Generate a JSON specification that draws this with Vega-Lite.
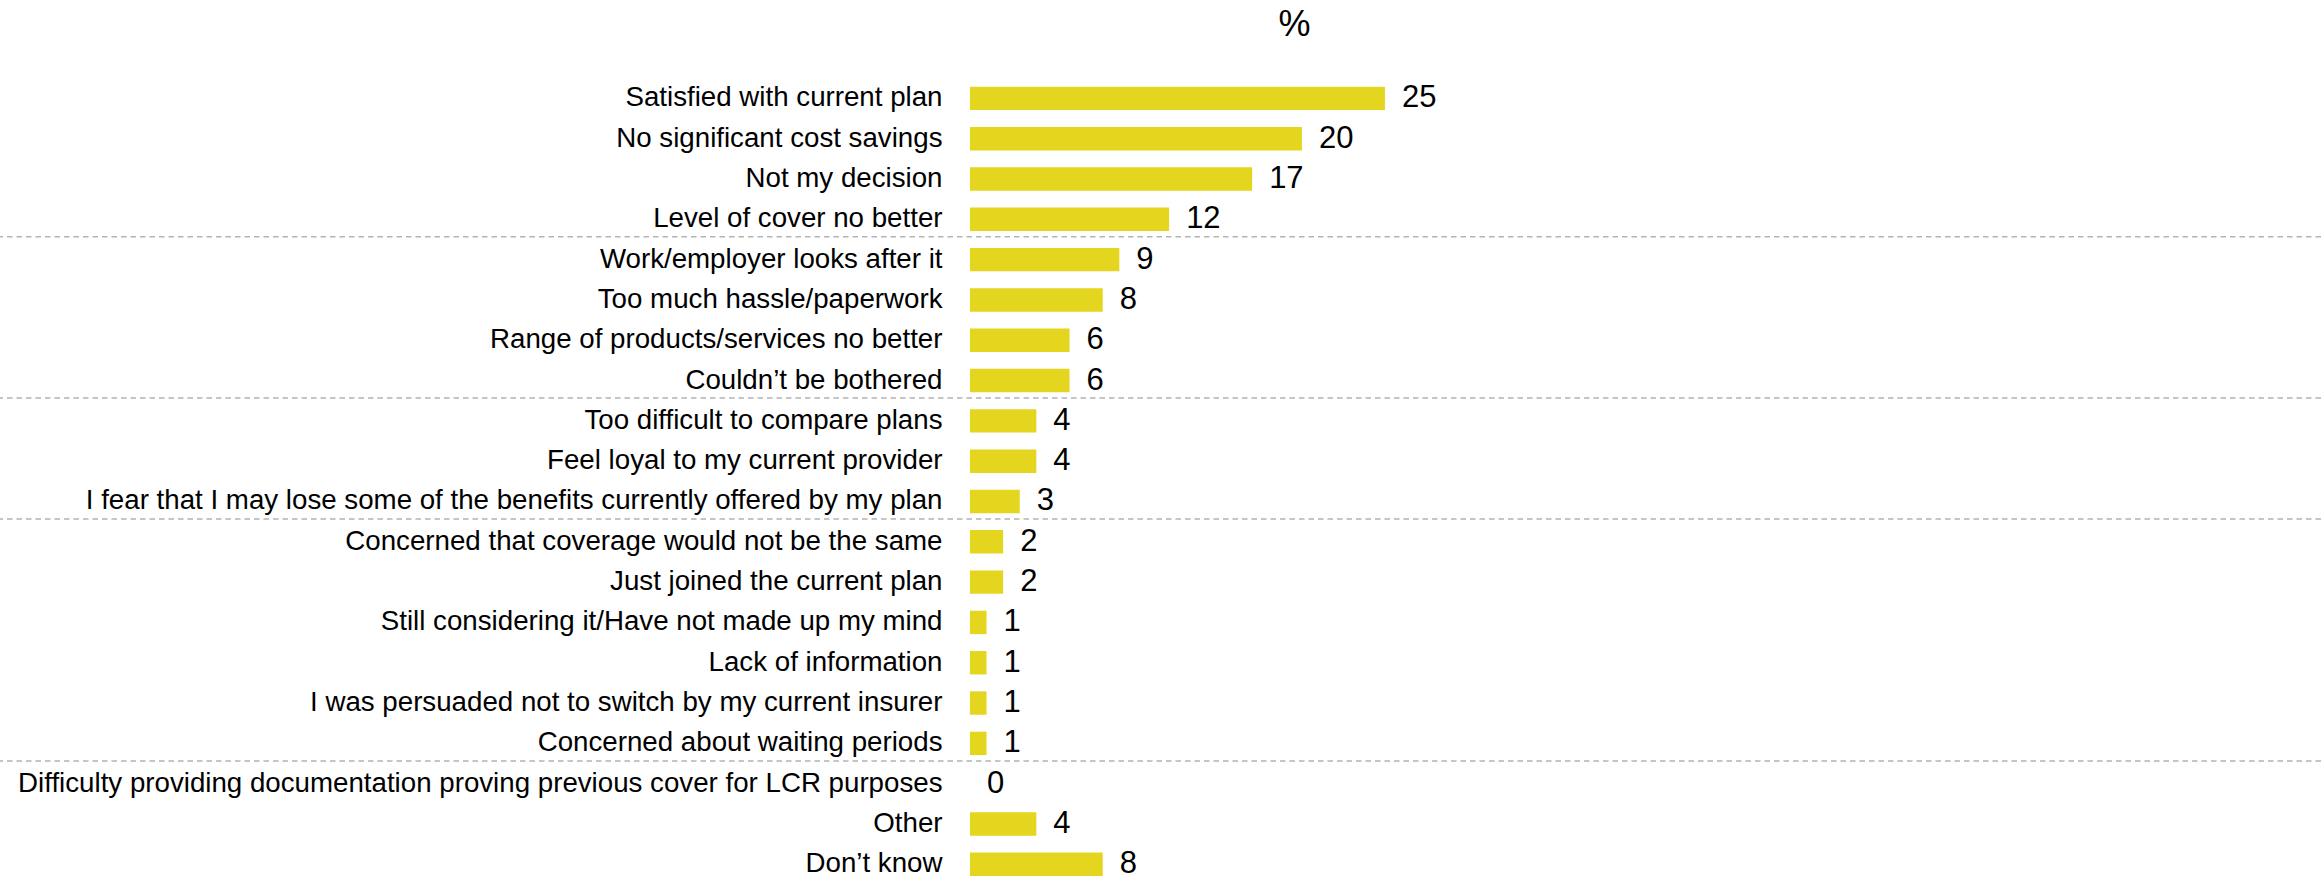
{
  "$schema": "https://vega.github.io/schema/vega-lite/v6.json",
  "width": 2321,
  "height": 826,
  "autosize": {"type": "none"},
  "padding": {"top": 50, "left": 0, "right": 0, "bottom": 0},
  "background": "white",
  "config": {"view": {"stroke": null}},
  "title": {
    "text": "%",
    "font": "Liberation Sans",
    "fontSize": 36,
    "fontWeight": "normal",
    "color": "black",
    "anchor": "middle",
    "frame": "group",
    "dx": 134,
    "dy": 38,
    "baseline": "bottom",
    "offset": 8
  },
  "data": {
    "values": [
      {"reason": "Satisfied with current plan", "pct": 25, "groupEnd": false},
      {"reason": "No significant cost savings", "pct": 20, "groupEnd": false},
      {"reason": "Not my decision", "pct": 17, "groupEnd": false},
      {"reason": "Level of cover no better", "pct": 12, "groupEnd": true},
      {"reason": "Work/employer looks after it", "pct": 9, "groupEnd": false},
      {"reason": "Too much hassle/paperwork", "pct": 8, "groupEnd": false},
      {"reason": "Range of products/services no better", "pct": 6, "groupEnd": false},
      {"reason": "Couldn’t be bothered", "pct": 6, "groupEnd": true},
      {"reason": "Too difficult to compare plans", "pct": 4, "groupEnd": false},
      {"reason": "Feel loyal to my current provider", "pct": 4, "groupEnd": false},
      {"reason": "I fear that I may lose some of the benefits currently offered by my plan", "pct": 3, "groupEnd": true},
      {"reason": "Concerned that coverage would not be the same", "pct": 2, "groupEnd": false},
      {"reason": "Just joined the current plan\u00a0", "pct": 2, "groupEnd": false},
      {"reason": "Still considering it/Have not made up my mind", "pct": 1, "groupEnd": false},
      {"reason": "Lack of information\u00a0", "pct": 1, "groupEnd": false},
      {"reason": "I was persuaded not to switch by my current insurer\u00a0", "pct": 1, "groupEnd": false},
      {"reason": "Concerned about waiting periods\u00a0", "pct": 1, "groupEnd": true},
      {"reason": "Difficulty providing documentation proving previous cover for LCR purposes", "pct": 0, "groupEnd": false},
      {"reason": "Other", "pct": 4, "groupEnd": false},
      {"reason": "Don’t know", "pct": 8, "groupEnd": false}
    ]
  },
  "encoding": {
    "y": {
      "field": "reason",
      "type": "nominal",
      "sort": null,
      "scale": {"type": "band", "paddingInner": 0.42, "paddingOuter": 0.455, "align": 1},
      "axis": {
        "orient": "left",
        "offset": -970,
        "domain": false,
        "ticks": false,
        "labelPadding": 28,
        "labelFont": "Liberation Sans",
        "labelFontSize": 27.7,
        "labelColor": "black",
        "labelLimit": 0,
        "title": null
      }
    }
  },
  "layer": [
    {
      "mark": {"type": "bar", "color": "#e4d51e"},
      "encoding": {
        "x": {
          "field": "pct",
          "type": "quantitative",
          "scale": {"domain": [-58.43, 81.39], "nice": false, "zero": false},
          "axis": null
        }
      }
    },
    {
      "transform": [{"filter": "datum.groupEnd"}],
      "mark": {"type": "rule", "color": "#b3b3b3", "strokeWidth": 1.5, "strokeDash": [5.5, 4]},
      "encoding": {
        "y": {"field": "reason", "type": "nominal", "sort": null, "bandPosition": 1.25}
      }
    },
    {
      "mark": {
        "type": "text",
        "align": "left",
        "baseline": "middle",
        "dx": 17,
        "font": "Liberation Sans",
        "fontSize": 31,
        "color": "black"
      },
      "encoding": {
        "x": {"field": "pct", "type": "quantitative"},
        "text": {"field": "pct", "type": "quantitative"}
      }
    }
  ]
}
